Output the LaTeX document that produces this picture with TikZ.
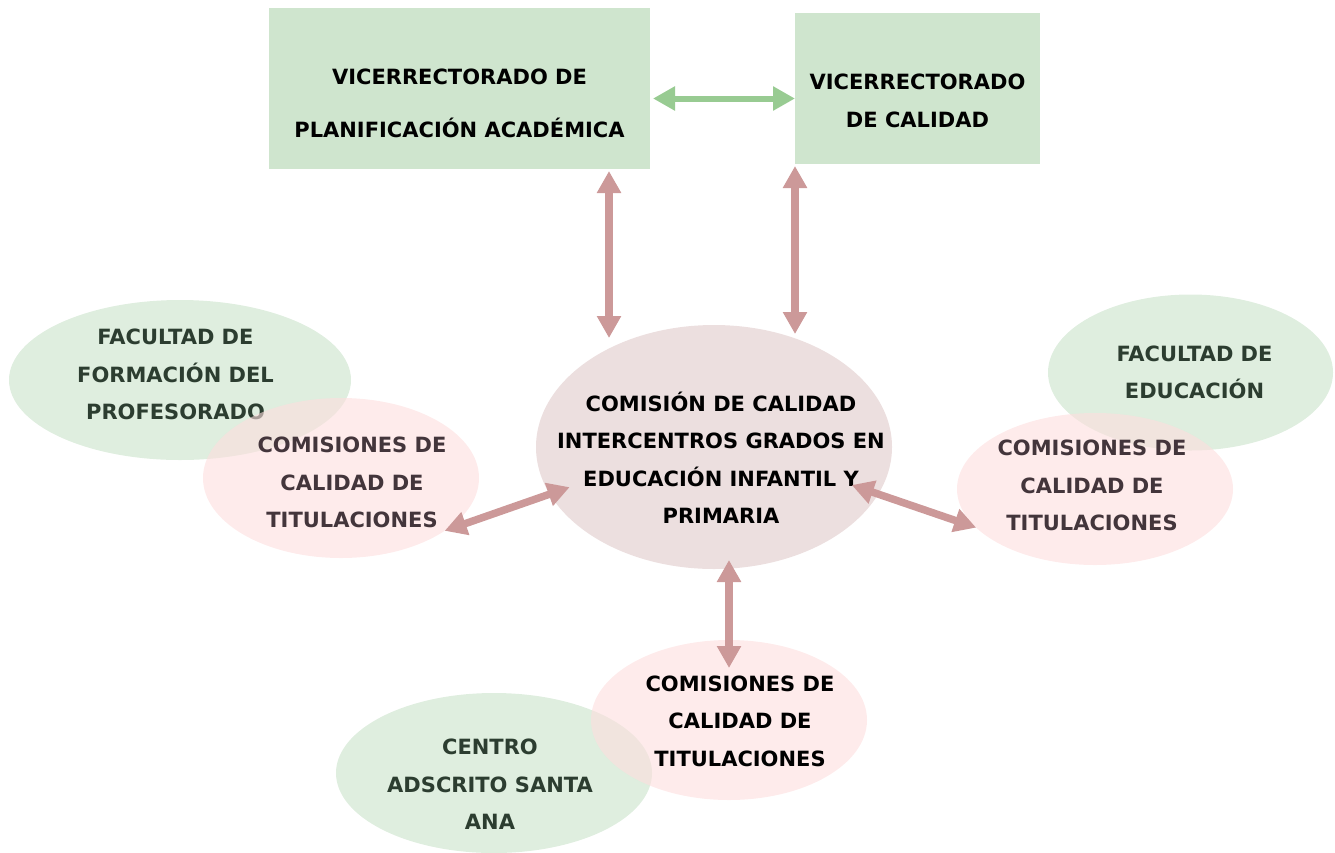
\documentclass[tikz,border=0pt]{standalone}
\usepackage{fontspec}
\setmainfont{DejaVu Sans}
\usetikzlibrary{arrows.meta,shapes.geometric}

\definecolor{boxgreen}{HTML}{CFE5CE}
\definecolor{facgreen}{HTML}{C9E2C9}
\definecolor{titpink}{HTML}{FDDEDE}
\definecolor{comfill}{HTML}{ECDFDF}
\definecolor{arrowred}{HTML}{CC9999}
\definecolor{arrowgreen}{HTML}{98CB92}
\definecolor{factext}{HTML}{2C3D30}
\definecolor{tittext}{HTML}{43353B}

\tikzset{
  lbl/.style={align=center, inner sep=0pt, text opacity=1,
    font=\bfseries\fontsize{21}{37.5}\selectfont},
  vrbox/.style={rectangle, fill=boxgreen, inner sep=0pt, outer sep=0pt},
  comell/.style={ellipse, fill=comfill, inner sep=0pt, outer sep=0pt},
  facell/.style={ellipse, fill=facgreen, fill opacity=.6, inner sep=0pt, outer sep=0pt},
  titell/.style={ellipse, fill=titpink, fill opacity=.6, inner sep=0pt, outer sep=0pt},
  redlink/.style={draw=arrowred, line width=7.5pt,
    {Triangle[length=22pt,width=23pt]}-{Triangle[length=22pt,width=23pt]}},
  greenlink/.style={draw=arrowgreen, line width=6pt,
    {Triangle[length=22pt,width=23pt]}-{Triangle[length=22pt,width=23pt]}},
}

\begin{document}
\begin{tikzpicture}[x=1pt, y=-1pt]
  \useasboundingbox (0,0) rectangle (1335,852);

  % vicerrectorados
  \node[vrbox, minimum width=381pt, minimum height=161pt,
    label={[lbl, font=\bfseries\fontsize{21}{53}\selectfont, yshift=-15pt]center:VICERRECTORADO DE\\PLANIFICACIÓN ACADÉMICA}]
    (planif) at (459.5,88.5) {};
  \node[vrbox, minimum width=245pt, minimum height=151pt,
    label={[lbl, yshift=-12.5pt]center:VICERRECTORADO\\DE CALIDAD}]
    (calidad) at (917.5,88.5) {};

  % comision intercentros
  \node[comell, minimum width=356pt, minimum height=244pt,
    label={[lbl, xshift=7pt, yshift=-11pt]center:COMISIÓN DE CALIDAD\\INTERCENTROS GRADOS EN\\EDUCACIÓN INFANTIL Y\\PRIMARIA}]
    (com) at (714,447) {};

  % centros y comisiones de titulacion
  \node[facell, minimum width=342pt, minimum height=160pt,
    label={[lbl, text=factext, xshift=-4.5pt, yshift=5.5pt]center:FACULTAD DE\\FORMACIÓN DEL\\PROFESORADO}]
    (ffp) at (180,380) {};
  \node[titell, minimum width=276pt, minimum height=160pt,
    label={[lbl, text=tittext, xshift=11pt, yshift=-4.5pt]center:COMISIONES DE\\CALIDAD DE\\TITULACIONES}]
    (cdl) at (341,478) {};

  \node[facell, minimum width=285pt, minimum height=156pt,
    label={[lbl, text=factext, xshift=4pt]center:FACULTAD DE\\EDUCACIÓN}]
    (fed) at (1190.5,372.5) {};
  \node[titell, minimum width=276pt, minimum height=152pt,
    label={[lbl, text=tittext, xshift=-3pt, yshift=3.5pt]center:COMISIONES DE\\CALIDAD DE\\TITULACIONES}]
    (cdr) at (1095,489) {};

  \node[facell, minimum width=316pt, minimum height=160pt,
    label={[lbl, text=factext, xshift=-4pt, yshift=-11.5pt]center:CENTRO\\ADSCRITO SANTA\\ANA}]
    (csa) at (494,773) {};
  \node[titell, minimum width=276pt, minimum height=160pt,
    label={[lbl, xshift=11pt, yshift=-1pt]center:COMISIONES DE\\CALIDAD DE\\TITULACIONES}]
    (cdb) at (729,720) {};

  % flechas
  \draw[greenlink, shorten <=3pt] ([yshift=-10pt]planif.east) -- ([yshift=-10pt]calidad.west);
  \draw[redlink, shorten >=-13pt] ([xshift=-41pt,yshift=-2pt]planif.south east) coordinate (pa)
    -- (pa |- com.north);
  \draw[redlink, shorten >=-9pt] ([yshift=-2pt]calidad.south west) coordinate (pb)
    -- (pb |- com.north);
  \draw[redlink, shorten <=-21pt] (com.196) -- (cdl.-27);
  \draw[redlink, shorten <=-28pt] (com.-16) -- (cdr.198);
  \draw[redlink, shorten <=-9pt, shorten >=-28pt] (cdb.north |- com.south) -- (cdb.north);
\end{tikzpicture}
\end{document}
